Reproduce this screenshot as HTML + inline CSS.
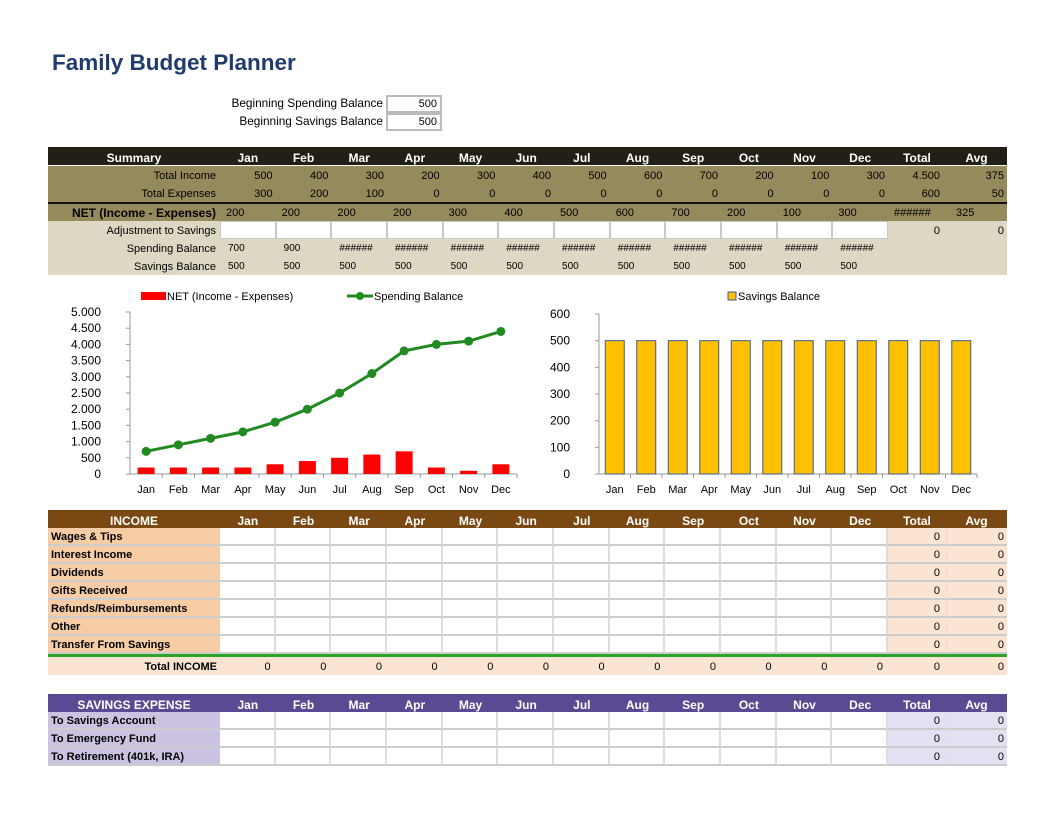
<!DOCTYPE html>
<html><head><meta charset="utf-8"><style>
body{margin:0;width:1056px;height:816px;background:#fff;position:relative;font-family:"Liberation Sans","DejaVu Sans",sans-serif;overflow:hidden}
.a{position:absolute;box-sizing:border-box;white-space:nowrap}
</style></head><body>
<div class="a" style="left:52px;top:50px;font-size:22.5px;font-weight:bold;color:#1f3b6e">Family Budget Planner</div>
<div class="a" style="left:180px;top:96px;width:203px;text-align:right;font-size:11.8px">Beginning Spending Balance</div>
<div class="a" style="left:180px;top:114px;width:203px;text-align:right;font-size:11.8px">Beginning Savings Balance</div>
<div class="a" style="left:386px;top:95px;width:56px;height:18px;border:2px solid #bbb;font-size:11px;text-align:right;padding-right:3px;line-height:14px">500</div>
<div class="a" style="left:386px;top:113px;width:56px;height:18px;border:2px solid #bbb;font-size:11px;text-align:right;padding-right:3px;line-height:14px">500</div>
<div id="root"></div>
<svg class="a" style="left:0;top:280px" width="1056" height="225" viewBox="0 280 1056 225" font-family="Liberation Sans, DejaVu Sans, sans-serif" font-size="11" id="ch"></svg>
<script>
var R=document.getElementById('root');
var M=['Jan','Feb','Mar','Apr','May','Jun','Jul','Aug','Sep','Oct','Nov','Dec'];
var L=48,LW=172,CW=55.67,TW=58,AW=61;
function cx(i){return 220+i*CW}
function box(x,y,w,h,bg,extra){var d=document.createElement('div');d.className='a';d.style.cssText='left:'+x+'px;top:'+y+'px;width:'+w+'px;height:'+h+'px;background:'+bg+';'+(extra||'');R.appendChild(d);return d}
function txt(x,y,w,h,t,st){var d=box(x,y+1,w,h,'transparent','font-size:11px;line-height:'+h+'px;'+(st||''));d.textContent=t;return d}
function header(y,bg,label,col){box(L,y,959,18,bg);var hs='color:#fff;font-weight:bold;text-align:center;font-size:12px';txt(L,y+1,LW,18,label,hs);
for(var i=0;i<12;i++)txt(cx(i),y+1,CW,18,M[i],hs);
txt(888,y+1,TW,18,'Total',hs);txt(946,y+1,AW,18,'Avg',hs)}
header(147,'#231f16','Summary');
var ol='#958a5c',bg2='#ddd8c4';
box(L,166,959,36,ol);box(L,202,959,2,'#111');box(L,204,959,17,ol);box(L,221,959,54,bg2);
var inc=[500,400,300,200,300,400,500,600,700,200,100,300],exp=[300,200,100,0,0,0,0,0,0,0,0,0];
txt(L,166,LW-4,18,'Total Income','text-align:right');txt(L,184,LW-4,18,'Total Expenses','text-align:right');
for(var i=0;i<12;i++){txt(cx(i),166,CW-3,18,inc[i],'text-align:right');txt(cx(i),184,CW-3,18,exp[i],'text-align:right')}
txt(888,166,TW-6,18,'4.500','text-align:right');txt(946,166,AW-3,18,'375','text-align:right');
txt(888,184,TW-6,18,'600','text-align:right');txt(946,184,AW-3,18,'50','text-align:right');
txt(L,204,LW-4,17,'NET (Income - Expenses)','text-align:right;font-weight:bold;font-size:12px');
for(var i=0;i<12;i++)txt(cx(i)+6,204,CW,17,inc[i]-exp[i]);
txt(894,204,50,17,'######');txt(956,204,50,17,'325');
txt(L,221,LW-4,18,'Adjustment to Savings','text-align:right');
for(var i=0;i<12;i++)box(cx(i),221,CW,18,'#fff','border:1px solid #c8c8c8');
txt(888,221,TW-6,18,'0','text-align:right');txt(946,221,AW-3,18,'0','text-align:right');
txt(L,239,LW-4,18,'Spending Balance','text-align:right');txt(L,257,LW-4,18,'Savings Balance','text-align:right');
for(var i=0;i<12;i++){txt(cx(i)+8,239,CW,18,i<2?(i?'900':'700'):'######','font-size:10px');txt(cx(i)+8,257,CW,18,'500','font-size:10px')}
function section(y,hbg,label,rows,lbg,tbg,total){header(y,hbg,label);
for(var r=0;r<rows.length;r++){var yy=y+18+r*18;box(L,yy,LW,18,lbg,'border-bottom:2px solid #ccc');txt(L+3,yy,LW,17,rows[r],'font-weight:bold');
for(var i=0;i<12;i++)box(cx(i),yy,CW,18,'#fff','border-right:2px solid #ddd;border-bottom:2px solid #ccc');
box(888,yy,TW,18,tbg,'border-bottom:2px solid #ccc');box(946,yy,AW,18,tbg,'border-bottom:2px solid #ccc;border-left:1px solid #ddd');
txt(888,yy,TW-6,17,'0','text-align:right');txt(946,yy,AW-3,17,'0','text-align:right')}
if(total){var ty=y+18+rows.length*18;box(L,ty,959,3,'#2aa52a');box(L,ty+3,959,18,tbg);txt(L,ty+3,LW-3,18,'Total INCOME','text-align:right;font-weight:bold');
for(var i=0;i<12;i++)txt(cx(i),ty+3,CW-5,18,'0','text-align:right');txt(888,ty+3,TW-6,18,'0','text-align:right');txt(946,ty+3,AW-3,18,'0','text-align:right')}}
section(510,'#7a4812','INCOME',['Wages & Tips','Interest Income','Dividends','Gifts Received','Refunds/Reimbursements','Other','Transfer From Savings'],'#f5cca3','#fbe5d2',true);
section(694,'#5a4a93','SAVINGS EXPENSE',['To Savings Account','To Emergency Fund','To Retirement (401k, IRA)'],'#ccc3e2','#e4e0f1',false);
var s='';
var sp=[700,900,1100,1300,1600,2000,2500,3100,3800,4000,4100,4400];
function ly(v){return 474-v/5000*162}
s+='<line x1="130" y1="312" x2="130" y2="474" stroke="#999"/><line x1="126" y1="474" x2="517" y2="474" stroke="#999"/>';
var tl=['0','500','1.000','1.500','2.000','2.500','3.000','3.500','4.000','4.500','5.000'];
for(var k=0;k<=10;k++){var y=ly(k*500);s+='<line x1="126" y1="'+y+'" x2="130" y2="'+y+'" stroke="#999"/><text x="101" y="'+(y+4)+'" text-anchor="end" font-size="12">'+tl[k]+'</text>'}
var lx=[];for(var i=0;i<12;i++){var c=130+32.25*(i+.5);lx.push(c);
s+='<line x1="'+(130+32.25*(i+1))+'" y1="474" x2="'+(130+32.25*(i+1))+'" y2="478" stroke="#999"/>';
var v=inc[i]-exp[i];s+='<rect x="'+(c-8.5)+'" y="'+ly(v)+'" width="17" height="'+(474-ly(v))+'" fill="#ff0000"/>';
s+='<text x="'+c+'" y="493" text-anchor="middle">'+M[i]+'</text>'}
s+='<polyline fill="none" stroke="#218a21" stroke-width="3" points="'+lx.map(function(x,i){return x+','+ly(sp[i])}).join(' ')+'"/>';
for(var i=0;i<12;i++)s+='<circle cx="'+lx[i]+'" cy="'+ly(sp[i])+'" r="4.5" fill="#218a21"/>';
s+='<rect x="141" y="292" width="25" height="8" fill="#ff0000"/><text x="167" y="300">NET (Income - Expenses)</text>';
s+='<line x1="347" y1="296" x2="373" y2="296" stroke="#218a21" stroke-width="3"/><circle cx="360" cy="296" r="4" fill="#218a21"/><text x="374" y="300">Spending Balance</text>';
function ry(v){return 474-v/600*160}
s+='<line x1="599" y1="314" x2="599" y2="474" stroke="#999"/><line x1="595" y1="474" x2="977" y2="474" stroke="#999"/>';
for(var k=0;k<=6;k++){var y=ry(k*100);s+='<line x1="595" y1="'+y+'" x2="599" y2="'+y+'" stroke="#999"/><text x="570" y="'+(y+4)+'" text-anchor="end" font-size="12">'+(k*100)+'</text>'}
for(var i=0;i<12;i++){var c=599+31.5*(i+.5);s+='<line x1="'+(599+31.5*(i+1))+'" y1="474" x2="'+(599+31.5*(i+1))+'" y2="478" stroke="#999"/>';
s+='<rect x="'+(c-9.5)+'" y="'+ry(500)+'" width="19" height="'+(474-ry(500))+'" fill="#ffc000" stroke="#3d5a8c" stroke-width="1"/>';
s+='<text x="'+c+'" y="493" text-anchor="middle">'+M[i]+'</text>'}
s+='<rect x="728" y="292" width="8" height="8" fill="#ffc000" stroke="#3d5a8c"/><text x="738" y="300">Savings Balance</text>';
document.getElementById('ch').innerHTML=s;
</script>
</body></html>
